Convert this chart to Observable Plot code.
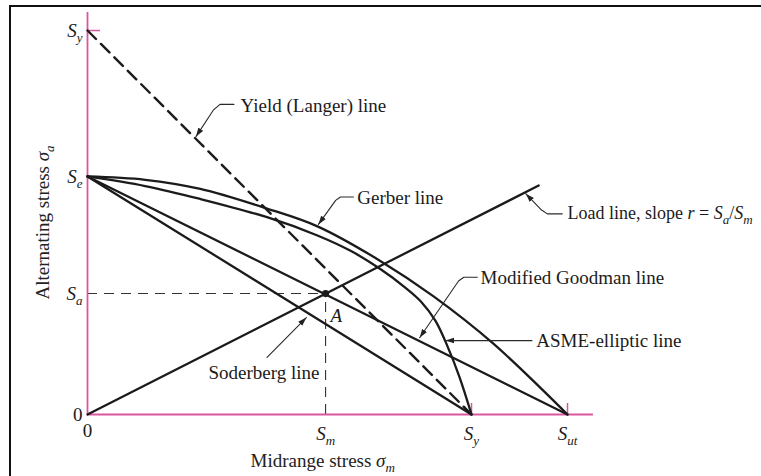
<!DOCTYPE html>
<html><head><meta charset="utf-8">
<script src="https://cdn.jsdelivr.net/npm/d3@7"></script>
<script src="https://cdn.jsdelivr.net/npm/@observablehq/plot@0.6"></script>
<style>
body{margin:0;background:#fff;}
#wrap{position:relative;width:761px;height:476px;overflow:hidden;background:#fff;}
#frame{position:absolute;left:9px;top:5px;width:820px;height:520px;border-left:2.5px solid #111;border-top:2.5px solid #111;pointer-events:none;}
svg{display:block;}
</style></head><body><div id="wrap"><div id="frame"></div></div>
<script>
// ---- values (units: S_ut = 100) ----
const Sut = 100, Sy = 80, Se = 49.6, Sm = 49.6, Sa = 25.2;
const axisTop = 83.75, axisRight = 105.4;

const yieldLine = [[0, Sy], [Sy, 0]];
const goodman = [[0, Se], [Sut, 0]];
const soderberg = [[0, Se], [Sy, 0]];
const loadLine = [[0, 0], [94, 47.7]];
const gerber = [[0, 49.6], [12, 48.9], [23.5, 47], [37.4, 42.9], [47.9, 39.2], [61, 32], [72.1, 24.6], [84.5, 14.8], [100, 0]];
const asme = [[0, 49.6], [12, 47.6], [23.5, 44.9], [37.4, 41.1], [47.9, 37.3], [55, 34], [61, 30.3], [66, 26.6], [69.5, 23.5], [72.5, 19.5], [75, 14.2], [77.5, 7.8], [80, 0]];

const yTickVals = [Sy, Se, Sa, 0];
const yTickLabels = ["*S*_{y}", "*S*_{e}", "*S*_{a}", "0"];
const xTickVals = [0, Sm, Sy, Sut];
const xTickLabels = ["0", "*S*_{m}", "*S*_{y}", "*S*_{ut}"];
const xTickDy = [16, 19, 19, 19];

const annLabels = ["Yield (Langer) line", "Gerber line", "Load line, slope *r* = *S*_{a}/*S*_{m}", "Modified Goodman line", "ASME-elliptic line", "Soderberg line", "*A*"];
const annX = [31.9, 56.2, 100.0, 81.9, 93.5, 25.2, 50.6];
const annY = [64.2, 45.2, 41.9, 28.5, 15.4, 8.75, 20.6];
const annSize = [19, 19, 18, 19, 19, 19, 19];

const leaders = [
  [[30.5, 64.6], [27.6, 64.6], [26.2, 63.4], [22.6, 57.9]],
  [[55.4, 45.3], [52.7, 45.3], [51.7, 44.6], [48.1, 39.6]],
  [[98.9, 41.8], [95.8, 41.8], [94.6, 42.6], [91.3, 46.0]],
  [[81.2, 28.6], [78.4, 28.6], [77.3, 27.8], [69.2, 16.0]],
  [[92.6, 15.4], [74.6, 15.4]],
  [[37.4, 11.9], [45.6, 20.2]]
];

const xTitle = "Midrange stress *σ*_{m}", yTitle = "Alternating stress *σ*_{a}";

// ---- drawing ----
const ink = "#1b1b1b", pink = "#d9579f";
const X = d => d[0], Y = d => d[1];

const plot = Plot.plot({
  width: 761, height: 476,
  marginLeft: 87, marginRight: 194, marginTop: 30, marginBottom: 62,
  x: {domain: [0, 100], axis: null},
  y: {domain: [0, 80], axis: null},
  style: {fontFamily: "'Liberation Serif', 'Times New Roman', serif", fontSize: "19px", background: "white"},
  marks: [
    // helper dashed lines to point A
    Plot.ruleY([Sa], {x1: 0, x2: Sm, stroke: "#333", strokeWidth: 1.1, strokeDasharray: "10,7"}),
    Plot.ruleX([Sm], {y1: 0, y2: Sa, stroke: "#333", strokeWidth: 1.1, strokeDasharray: "10,7"}),
    // axes
    Plot.ruleX([0], {y1: 0, y2: axisTop, stroke: pink, strokeWidth: 1.8}),
    Plot.ruleY([0], {x1: 0, x2: axisRight, stroke: pink, strokeWidth: 1.8}),
    Plot.ruleY([Sy], {x1: 0, x2: 2.7, stroke: pink, strokeWidth: 1.5}),
    Plot.ruleX([Sy, Sut], {y1: 0, y2: 2.3, stroke: pink, strokeWidth: 1.5}),
    // criteria lines
    Plot.line(yieldLine, {x: X, y: Y, stroke: ink, strokeWidth: 2.4, strokeDasharray: "12,7"}),
    Plot.line(goodman, {x: X, y: Y, stroke: ink, strokeWidth: 2.3}),
    Plot.line(soderberg, {x: X, y: Y, stroke: ink, strokeWidth: 2.3}),
    Plot.line(gerber, {x: X, y: Y, stroke: ink, strokeWidth: 2.3, curve: "catmull-rom"}),
    Plot.line(asme, {x: X, y: Y, stroke: ink, strokeWidth: 2.3, curve: "catmull-rom"}),
    Plot.line(loadLine, {x: X, y: Y, stroke: ink, strokeWidth: 2.3}),
    Plot.dot([[Sm, Sa]], {x: X, y: Y, r: 3.6, fill: ink}),
    // leaders
    ...leaders.map(pts => Plot.line(pts, {x: X, y: Y, stroke: "#2a2a2a", strokeWidth: 1.1, ariaDescription: "leader"})),
    // tick labels
    Plot.text(yTickVals, {x: 0, y: d => d, text: (d, i) => yTickLabels[i], textAnchor: "end", dx: -5, fill: ink}),
    ...xTickVals.map((v, i) => Plot.text([v], {x: d => d, y: 0, text: () => xTickLabels[i], dy: xTickDy[i], fill: ink})),
    // annotations
    Plot.text(annLabels, {x: (d, i) => annX[i], y: (d, i) => annY[i], text: d => d, fontSize: (d, i) => annSize[i], textAnchor: "start", fill: ink}),
    // axis titles
    Plot.text([xTitle], {x: 49, y: -9.6, text: d => d, fill: "#222"}),
    Plot.text([yTitle], {x: -9.3, y: 40, text: d => d, rotate: -90, fill: "#222"})
  ]
});

// arrowheads for the leaders
const svg = d3.select(plot);
const defs = svg.insert("defs", ":first-child");
defs.append("marker").attr("id", "ah").attr("viewBox", "0 -4 10 8").attr("refX", 10).attr("refY", 0)
  .attr("markerWidth", 9).attr("markerHeight", 7).attr("markerUnits", "userSpaceOnUse").attr("orient", "auto")
  .append("path").attr("d", "M0,-3.3L10,0L0,3.3Z").attr("fill", "#222");
svg.selectAll('g[aria-description="leader"] path').attr("marker-end", "url(#ah)");

// rich text: *italic*, _{subscript}
svg.selectAll("text").each(function () {
  const s = this.textContent;
  if (!/[*]|_\{/.test(s)) return;
  const parts = s.split(/(\*[^*]+\*|_\{[^}]+\})/).filter(p => p);
  this.textContent = "";
  let down = false;
  for (const p of parts) {
    const t = d3.select(this).append("tspan");
    if (p.startsWith("_{")) {
      t.text(p.slice(2, -1)).attr("font-style", "italic").attr("font-size", "13px").attr("dy", 5);
      down = true;
      continue;
    }
    if (p.startsWith("*")) t.text(p.slice(1, -1)).attr("font-style", "italic");
    else t.text(p);
    if (down) { t.attr("dy", -5); down = false; }
  }
});

document.getElementById("wrap").prepend(plot);
</script>
</body></html>
